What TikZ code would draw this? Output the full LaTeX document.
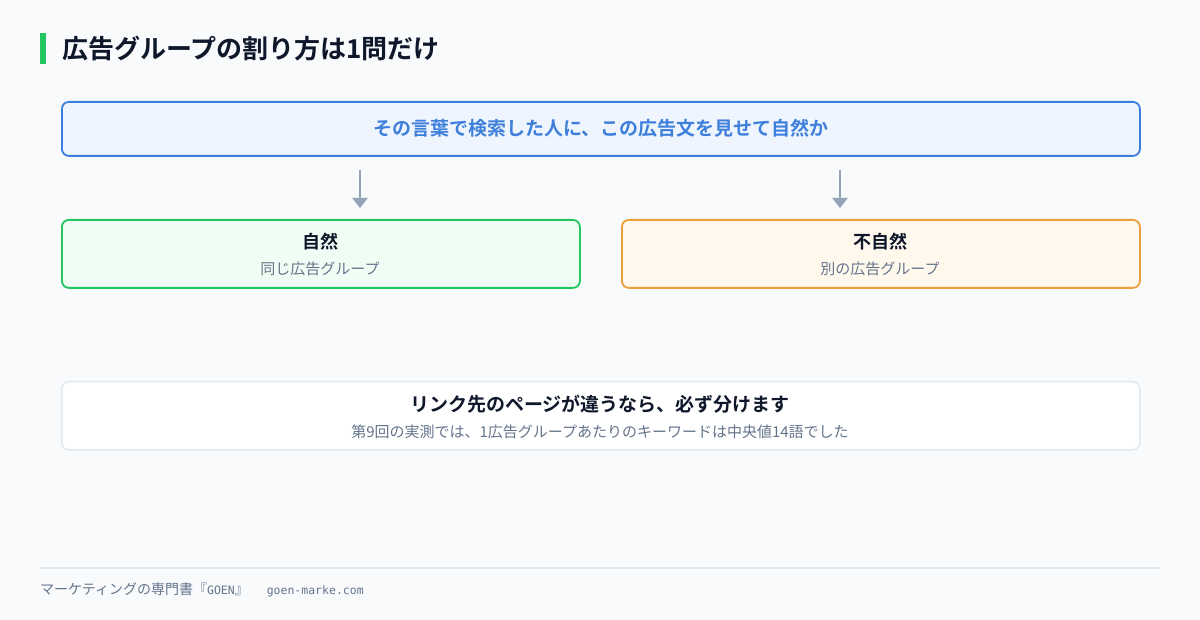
\documentclass[tikz,border=0pt]{standalone}
\usepackage{fontspec}
\setmainfont{Noto Sans CJK JP}[BoldFont={* Bold}]
\newfontfamily\monof{DejaVu Sans Mono}
\usetikzlibrary{arrows.meta}
\definecolor{bg}{HTML}{F8FAFC}
\definecolor{ink}{HTML}{0F172A}
\definecolor{sub}{HTML}{64748B}
\definecolor{bluestroke}{HTML}{3B7DDD}
\definecolor{bluefill}{HTML}{EEF5FF}
\definecolor{bluetext}{HTML}{3E7FDB}
\definecolor{greenstroke}{HTML}{22C55E}
\definecolor{greenfill}{HTML}{F0FDF4}
\definecolor{orangestroke}{HTML}{EBA03C}
\definecolor{orangefill}{HTML}{FFF8ED}
\definecolor{graystroke}{HTML}{E2E8F0}
\definecolor{arrowc}{HTML}{94A3B8}
\begin{document}
\begin{tikzpicture}[x=1pt,y=-1pt,
  card/.style={draw, rounded corners=7pt, line width=1.8pt, inner sep=0pt, anchor=north west},
  headtxt/.style={font=\fontsize{18}{20}\selectfont\bfseries, text=ink, inner sep=0pt},
  subtxt/.style={font=\fontsize{15}{17}\selectfont, text=sub, inner sep=0pt},
  flow/.style={draw=arrowc, line width=2.4pt, -{Triangle[width=15pt,length=10pt]}}
]
\useasboundingbox[fill=bg] (0,0) rectangle (1200,620);
% title
\fill[greenstroke] (40,33) rectangle (46,64);
\node[anchor=west, inner sep=0pt, font=\fontsize{26}{30}\selectfont\bfseries, text=ink] (title) at (62,49) {広告グループの割り方は1問だけ};
% top box
\node[card, draw=bluestroke, fill=bluefill, minimum width=1078pt, minimum height=54pt] (top) at (61,101) {};
\node[inner sep=0pt, font=\fontsize{19}{21}\selectfont\bfseries, text=bluetext] (toptxt) at (601,128) {その言葉で検索した人に、この広告文を見せて自然か};
% arrows
\coordinate (a1s) at (360,170); \coordinate (a1e) at (360,208);
\coordinate (a2s) at (840,170); \coordinate (a2e) at (840,208);
\draw[flow] (a1s) -- (a1e);
\draw[flow] (a2s) -- (a2e);
% left / right
\node[card, draw=greenstroke, fill=greenfill, minimum width=518pt, minimum height=68pt] (left) at (61,219) {};
\node[headtxt] (lh) at (320,242) {自然};
\node[subtxt] (ls) at (320,269) {同じ広告グループ};
\node[card, draw=orangestroke, fill=orangefill, minimum width=518pt, minimum height=68pt] (right) at (621,219) {};
\node[headtxt] (rh) at (880,242) {不自然};
\node[subtxt] (rs) at (880,269) {別の広告グループ};
% bottom box
\node[card, draw=graystroke, fill=white, line width=1.5pt, minimum width=1078pt, minimum height=68pt] (bot) at (61,381) {};
\node[headtxt, font=\fontsize{19}{21}\selectfont\bfseries] (bh) at (600,404) {リンク先のページが違うなら、必ず分けます};
\node[subtxt] (bs) at (600,432) {第9回の実測では、1広告グループあたりのキーワードは中央値14語でした};
% footer
\draw[graystroke, line width=1.5pt] (40,568) -- (1160,568);
\node[anchor=west, inner sep=0pt, font=\fontsize{14}{15}\selectfont, text=sub] (foot) at (40,590) {マーケティングの専門書『{\monof\fontsize{11.5}{15}\selectfont GOEN}』\hspace{18pt}{\monof\fontsize{11.5}{15}\selectfont goen-marke.com}};
\end{tikzpicture}
\end{document}
